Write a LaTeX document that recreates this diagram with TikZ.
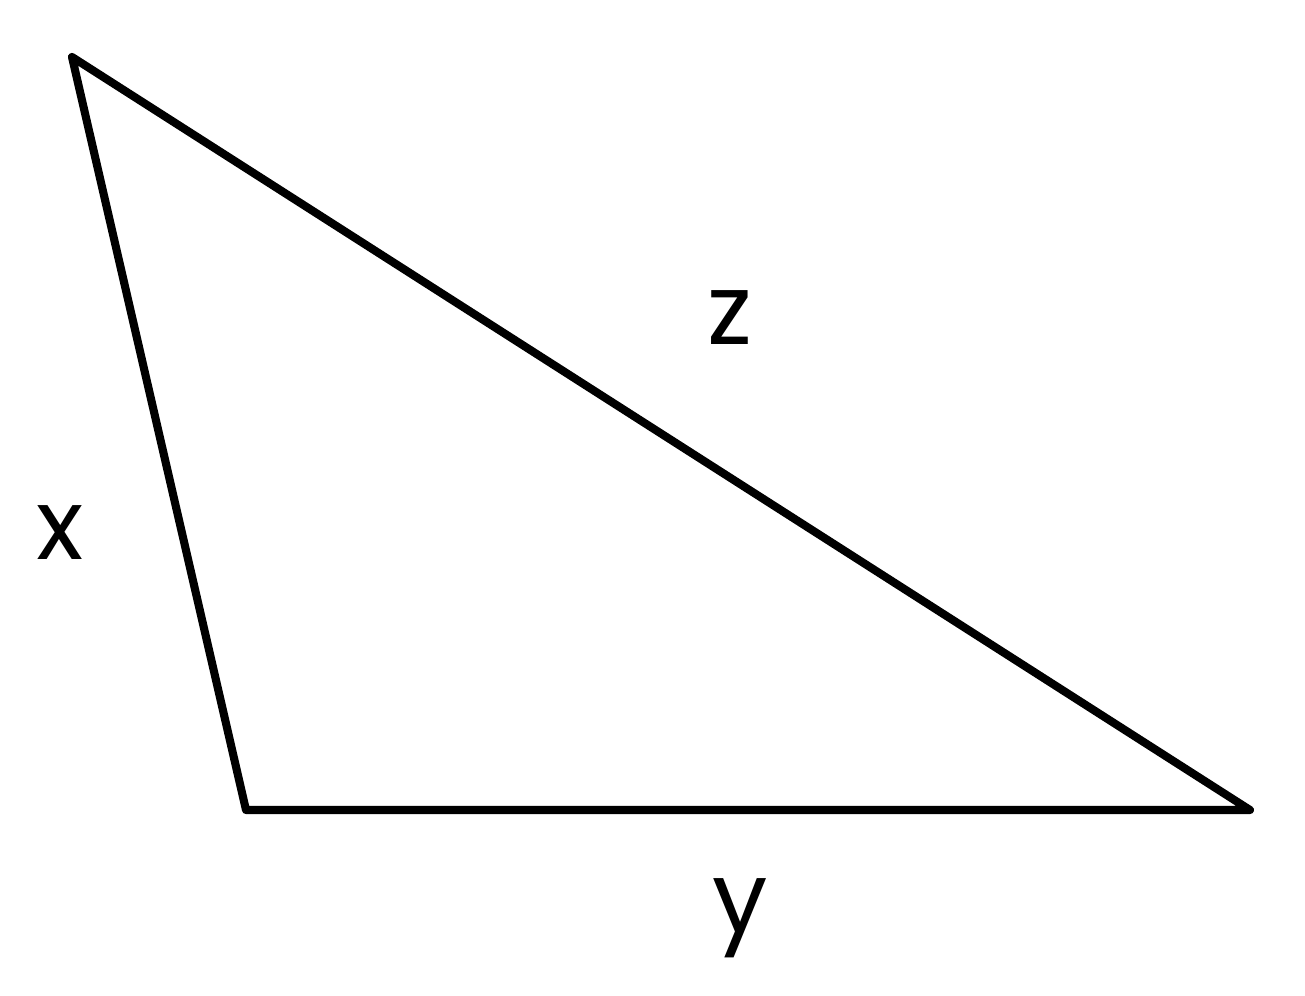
\documentclass[tikz,border=0pt]{standalone}
\usepackage{fontspec}
\setmainfont{Poppins}
\usepackage{tikz}
\usetikzlibrary{positioning,calc}
\newcommand*{\sidelbl}[1]{\fontsize{28}{30}\selectfont #1}

\begin{document}
\begin{tikzpicture}
\useasboundingbox (0,0) rectangle (13.05,9.95);
% Corners of the triangle
\coordinate (a) at (0.72,9.38);
\coordinate (b) at (2.46,1.85);
\coordinate (c) at (12.50,1.85);
% Draw the three sides
\draw[line width=2.3pt,line join=round,line cap=round] (a) -- (b) -- (c) -- cycle;
% Name the sides
\node (lx) at (0.60,4.62) {\sidelbl{x}};
\node (ly) at (7.40,0.77) {\sidelbl{y}};
\node (lz) at (7.30,6.77) {\sidelbl{z}};
\end{tikzpicture}
\end{document}
